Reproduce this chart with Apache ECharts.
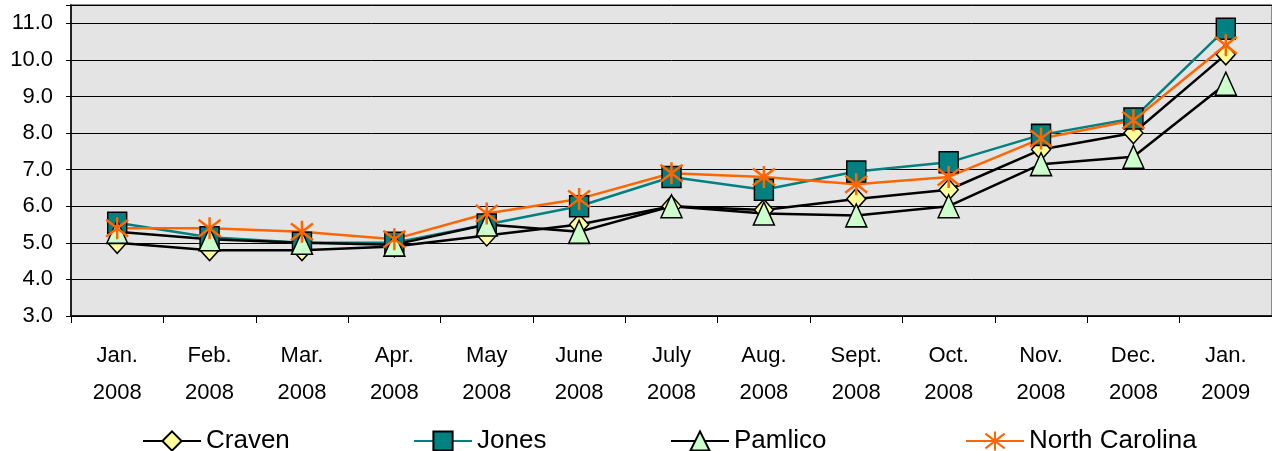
<!DOCTYPE html>
<html>
<head>
<meta charset="utf-8">
<script src="https://cdn.jsdelivr.net/npm/echarts@6/dist/echarts.min.js"></script>
<style>
  html, body { margin: 0; padding: 0; background: #fff; }
  #chart { width: 1272px; height: 451px; }
</style>
</head>
<body>
<div id="chart"></div>
<script>
const categories = [
  "Jan.\n2008", "Feb.\n2008", "Mar.\n2008", "Apr.\n2008", "May\n2008", "June\n2008",
  "July\n2008", "Aug.\n2008", "Sept.\n2008", "Oct.\n2008", "Nov.\n2008", "Dec.\n2008", "Jan.\n2009",
];
const craven = [5.0, 4.8, 4.8, 4.9, 5.2, 5.5, 6.0, 5.9, 6.2, 6.45, 7.55, 8.0, 10.15];
const jones = [5.55, 5.15, 5.0, 5.0, 5.5, 6.0, 6.8, 6.45, 6.95, 7.2, 7.95, 8.4, 10.85];
const pamlico = [5.3, 5.1, 5.0, 4.95, 5.5, 5.3, 6.0, 5.8, 5.75, 6.0, 7.15, 7.35, 9.35];
const northCarolina = [5.4, 5.4, 5.3, 5.1, 5.8, 6.2, 6.9, 6.8, 6.6, 6.8, 7.85, 8.35, 10.4];

const font = "'Liberation Sans', Arial, sans-serif";
const starPath = "path://M0,0L10,10M10,0L0,10M5,-1.5L5,11.5";

const chart = echarts.init(document.getElementById("chart"));

function legendAt(name, left) {
  return {
    data: [name],
    left: left,
    top: 423,
    itemWidth: 58,
    itemHeight: 24,
    itemGap: 0,
    textStyle: { fontFamily: font, fontSize: 26, color: "#000" },
  };
}

chart.setOption({
  animation: false,
  backgroundColor: "#fff",
  grid: {
    left: 71, right: 0, top: 5, bottom: 135,
    show: true,
    backgroundColor: "#e4e4e4",
    borderColor: "#8a8a8a",
    borderWidth: 2,
  },
  legend: [
    legendAt("Craven", 137),
    legendAt("Jones", 408),
    legendAt("Pamlico", 665),
    legendAt("North Carolina", 960),
  ],
  xAxis: {
    type: "category",
    data: categories,
    boundaryGap: true,
    axisLine: { lineStyle: { color: "#000", width: 1.5 } },
    axisTick: { show: true, length: 7, lineStyle: { color: "#000" } },
    axisLabel: {
      interval: 0,
      margin: 21,
      fontFamily: font,
      fontSize: 22,
      lineHeight: 37,
      color: "#000",
    },
  },
  yAxis: {
    type: "value",
    min: 3,
    max: 11.5,
    interval: 1,
    axisLine: { show: true, lineStyle: { color: "#000", width: 1.5 } },
    axisTick: { show: true, length: 5, lineStyle: { color: "#000" } },
    splitLine: { lineStyle: { color: "#000", width: 1 } },
    axisLabel: {
      margin: 18,
      fontFamily: font,
      fontSize: 22,
      color: "#000",
      formatter: (v) => (Number.isInteger(v) ? v.toFixed(1) : ""),
    },
  },
  series: [
    {
      name: "Craven",
      type: "line",
      data: craven,
      symbol: "diamond",
      symbolSize: [19, 21],
      lineStyle: { color: "#000", width: 2.5 },
      itemStyle: { color: "#ffff99", borderColor: "#000", borderWidth: 1.5 },
    },
    {
      name: "Jones",
      type: "line",
      data: jones,
      symbol: "rect",
      symbolSize: [19, 21],
      lineStyle: { color: "#008080", width: 2.5 },
      itemStyle: { color: "#008080", borderColor: "#000", borderWidth: 1.5 },
    },
    {
      name: "Pamlico",
      type: "line",
      data: pamlico,
      symbol: "triangle",
      symbolSize: [21, 23],
      lineStyle: { color: "#000", width: 2.5 },
      itemStyle: { color: "#ccffcc", borderColor: "#000", borderWidth: 1.5 },
    },
    {
      name: "North Carolina",
      type: "line",
      data: northCarolina,
      symbol: starPath,
      symbolSize: [22, 22],
      lineStyle: { color: "#ff6600", width: 2.5 },
      itemStyle: { color: "#ff6600", borderColor: "#ff6600", borderWidth: 2.5 },
    },
  ],
});
</script>
</body>
</html>
